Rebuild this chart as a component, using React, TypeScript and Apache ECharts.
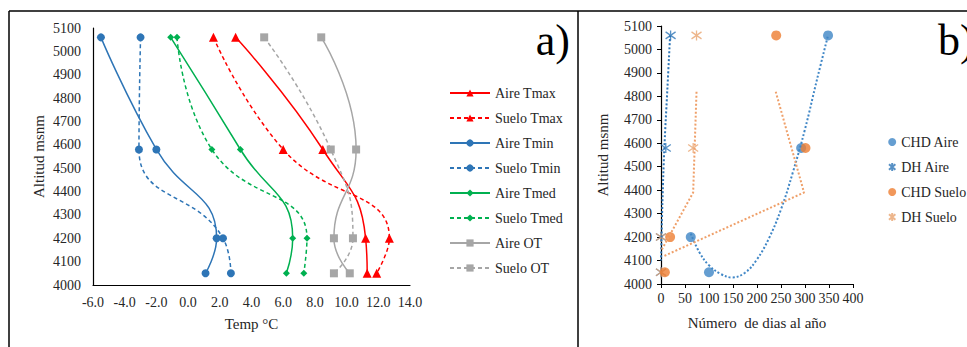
import React, { useEffect, useRef } from "react";
import * as echarts from "echarts";

// ---- Panel a) temperature profiles ----
const altitudes = [5060, 4580, 4200, 4050];
const aireTmax = [3.0, 8.5, 11.2, 11.3];
const sueloTmax = [1.6, 6.0, 12.7, 11.9];
const aireTmin = [-5.5, -2.0, 1.8, 1.1];
const sueloTmin = [-3.0, -3.1, 2.2, 2.7];
const aireTmed = [-1.1, 3.3, 6.6, 6.2];
const sueloTmed = [-0.7, 1.5, 7.5, 7.3];
const aireOT = [8.4, 10.6, 9.2, 10.2];
const sueloOT = [4.8, 9.0, 10.4, 9.2];

// ---- Panel b) number of days ----
const chdAire = [348, 292, 62, 100];
const dhAire = [20, 10, 0, 0];
const chdSuelo = [240, 301, 19, 8];
const dhSuelo = [74, 67, 0, 0];

// trend lines: [days, altitude]
const trendChdAire = [[62, 4215], [80, 4135], [100, 4080], [125, 4042], [148, 4028], [175, 4048], [200, 4105], [225, 4195], [250, 4318], [275, 4478], [300, 4660], [325, 4872], [348, 5060]];
const trendDhAire = [[19, 5060], [13, 4820], [7, 4580], [3, 4350], [0, 4100]];
const trendChdSuelo = [[239, 4820], [298, 4390], [7, 4120]];
const trendDhSuelo = [[74, 4820], [67, 4390], [0, 4140]];

const tempTicks = { min: -6, max: 14, interval: 2 };
const altTicks = { min: 4000, max: 5100, interval: 100 };
const dayTicks = { min: 0, max: 400, interval: 50 };

const FONT = "Liberation Serif";
const TXT = "#262626";
const RED = "#FF0000";
const BLUE = "#2E75B6";
const GREEN = "#00B050";
const GRAY = "#A6A6A6";
const CBLUE = "#3F86C6";
const ORANGE = "#ED7D31";

const ASTER = "path://M5,0 L5,10 M1,1.5 L9,8.5 M1,8.5 L9,1.5";

function pairs(xs: number[]) {
  return xs.map((v, i) => [v, altitudes[i]]);
}

export default function App() {
  const ref = useRef<HTMLDivElement>(null);
  useEffect(() => {
    if (!ref.current) return;
    const chart = echarts.init(ref.current, null, { renderer: "svg" });

    const lineSeries = (name: string, data: number[], color: string, dashed: boolean, symbol: string, size: number) => ({
      name,
      type: "line",
      xAxisIndex: 0,
      yAxisIndex: 0,
      data: pairs(data),
      smooth: 0.5,
      symbol,
      symbolSize: size,
      showSymbol: true,
      lineStyle: { color, width: 1.5, type: dashed ? [4, 3] : "solid" },
      itemStyle: { color },
    });

    const trend = (name: string, data: number[][], color: string, smooth: boolean) => ({
      name,
      type: "line",
      xAxisIndex: 1,
      yAxisIndex: 1,
      data,
      smooth: smooth ? 0.4 : false,
      showSymbol: false,
      symbol: "none",
      lineStyle: { color, width: 2, type: [2, 2] },
      silent: true,
    });

    const axisLabel = { color: TXT, fontFamily: FONT, fontSize: 14 };
    const nameStyle = { color: TXT, fontFamily: FONT, fontSize: 15 };
    const plain = (v: number) => String(v);

    const option: any = {
      animation: false,
      backgroundColor: "#ffffff",
      textStyle: { fontFamily: FONT },
      grid: [
        { left: 93, top: 28, width: 317, height: 257 },
        { left: 661, top: 26, width: 192, height: 258 },
      ],
      xAxis: [
        {
          gridIndex: 0,
          type: "value",
          ...tempTicks,
          name: "Temp °C",
          nameLocation: "middle",
          nameGap: 31,
          nameTextStyle: nameStyle,
          axisLine: { show: true, onZero: false, lineStyle: { color: "#000", width: 1.2 } },
          axisTick: { show: false },
          splitLine: { show: false },
          axisLabel: { ...axisLabel, margin: 10, formatter: (v: number) => v.toFixed(1) },
        },
        {
          gridIndex: 1,
          type: "value",
          ...dayTicks,
          name: "Número  de dias al año",
          nameLocation: "middle",
          nameGap: 31,
          nameTextStyle: nameStyle,
          axisLine: { show: true, onZero: false, lineStyle: { color: "#000", width: 1.2 } },
          axisTick: { show: true, length: 4, lineStyle: { color: "#000" } },
          splitLine: { show: false },
          axisLabel: { ...axisLabel, margin: 7, formatter: plain },
        },
      ],
      yAxis: [
        {
          gridIndex: 0,
          type: "value",
          ...altTicks,
          name: "Altitud msnm",
          nameLocation: "middle",
          nameGap: 47,
          nameTextStyle: nameStyle,
          axisLine: { show: true, onZero: false, lineStyle: { color: "#000", width: 1.2 } },
          axisTick: { show: false },
          splitLine: { show: false },
          axisLabel: { ...axisLabel, margin: 12, formatter: plain },
        },
        {
          gridIndex: 1,
          type: "value",
          ...altTicks,
          name: "Altitud msnm",
          nameLocation: "middle",
          nameGap: 51,
          nameTextStyle: nameStyle,
          axisLine: { show: true, onZero: false, lineStyle: { color: "#000", width: 1.2 } },
          axisTick: { show: true, length: 4, lineStyle: { color: "#000" } },
          splitLine: { show: false },
          axisLabel: { ...axisLabel, margin: 9, formatter: plain },
        },
      ],
      legend: [
        {
          orient: "vertical",
          left: 449,
          top: 86,
          padding: 0,
          itemWidth: 40,
          itemHeight: 9,
          itemGap: 11,
          textStyle: { color: TXT, fontFamily: FONT, fontSize: 14, lineHeight: 14 },
          data: ["Aire Tmax", "Suelo Tmax", "Aire Tmin", "Suelo Tmin", "Aire Tmed", "Suelo Tmed", "Aire OT", "Suelo OT"],
        },
        {
          orient: "vertical",
          left: 888,
          top: 135,
          padding: 0,
          itemWidth: 8,
          itemHeight: 8,
          itemGap: 11,
          textStyle: { color: TXT, fontFamily: FONT, fontSize: 14, lineHeight: 14 },
          data: [
            { name: "CHD Aire", icon: "circle" },
            { name: "DH Aire", icon: ASTER },
            { name: "CHD Suelo", icon: "circle" },
            { name: "DH Suelo", icon: ASTER },
          ],
        },
      ],
      series: [
        lineSeries("Aire Tmax", aireTmax, RED, false, "triangle", 9),
        lineSeries("Suelo Tmax", sueloTmax, RED, true, "triangle", 9),
        lineSeries("Aire Tmin", aireTmin, BLUE, false, "circle", 8),
        lineSeries("Suelo Tmin", sueloTmin, BLUE, true, "circle", 8),
        lineSeries("Aire Tmed", aireTmed, GREEN, false, "diamond", 7),
        lineSeries("Suelo Tmed", sueloTmed, GREEN, true, "diamond", 7),
        lineSeries("Aire OT", aireOT, GRAY, false, "rect", 8),
        lineSeries("Suelo OT", sueloOT, GRAY, true, "rect", 8),

        trend("Tendencia CHD Aire", trendChdAire, CBLUE, true),
        trend("Tendencia DH Aire", trendDhAire, BLUE, true),
        trend("Tendencia CHD Suelo", trendChdSuelo, "#EFA06A", false),
        trend("Tendencia DH Suelo", trendDhSuelo, "#EFA06A", false),

        {
          name: "DH Aire",
          type: "scatter",
          xAxisIndex: 1,
          yAxisIndex: 1,
          data: pairs(dhAire),
          symbol: ASTER,
          symbolSize: 10,
          clip: false,
          itemStyle: { color: "rgba(0,0,0,0)", borderColor: BLUE, borderWidth: 1.3 },
        },
        {
          name: "DH Suelo",
          type: "scatter",
          xAxisIndex: 1,
          yAxisIndex: 1,
          data: pairs(dhSuelo),
          symbol: ASTER,
          symbolSize: 10,
          clip: false,
          itemStyle: { color: "rgba(0,0,0,0)", borderColor: "#E9A46F", borderWidth: 1.3 },
        },
        {
          name: "CHD Aire",
          type: "scatter",
          xAxisIndex: 1,
          yAxisIndex: 1,
          data: pairs(chdAire),
          symbol: "circle",
          symbolSize: 10,
          clip: false,
          itemStyle: { color: CBLUE },
        },
        {
          name: "CHD Suelo",
          type: "scatter",
          xAxisIndex: 1,
          yAxisIndex: 1,
          data: pairs(chdSuelo),
          symbol: "circle",
          symbolSize: 10,
          clip: false,
          itemStyle: { color: ORANGE },
        },
      ],
      graphic: [
        { type: "line", shape: { x1: 9, y1: 11, x2: 967, y2: 11 }, style: { stroke: "#000", lineWidth: 1.5 }, silent: true },
        { type: "line", shape: { x1: 9, y1: 11, x2: 9, y2: 347 }, style: { stroke: "#000", lineWidth: 1.5 }, silent: true },
        { type: "line", shape: { x1: 578, y1: 11, x2: 578, y2: 347 }, style: { stroke: "#000", lineWidth: 1.5 }, silent: true },
        {
          type: "text",
          right: 967 - 570,
          top: 18,
          style: { text: "a)", font: `44px ${FONT}`, fill: "#000" },
          silent: true,
        },
        {
          type: "text",
          left: 938,
          top: 18,
          style: { text: "b)", font: `44px ${FONT}`, fill: "#000" },
          silent: true,
        },
      ],
    };

    chart.setOption(option);
    return () => chart.dispose();
  }, []);

  return (
    <div
      ref={ref}
      style={{ position: "fixed", left: 0, top: 0, width: 967, height: 347, background: "#fff" }}
    />
  );
}
